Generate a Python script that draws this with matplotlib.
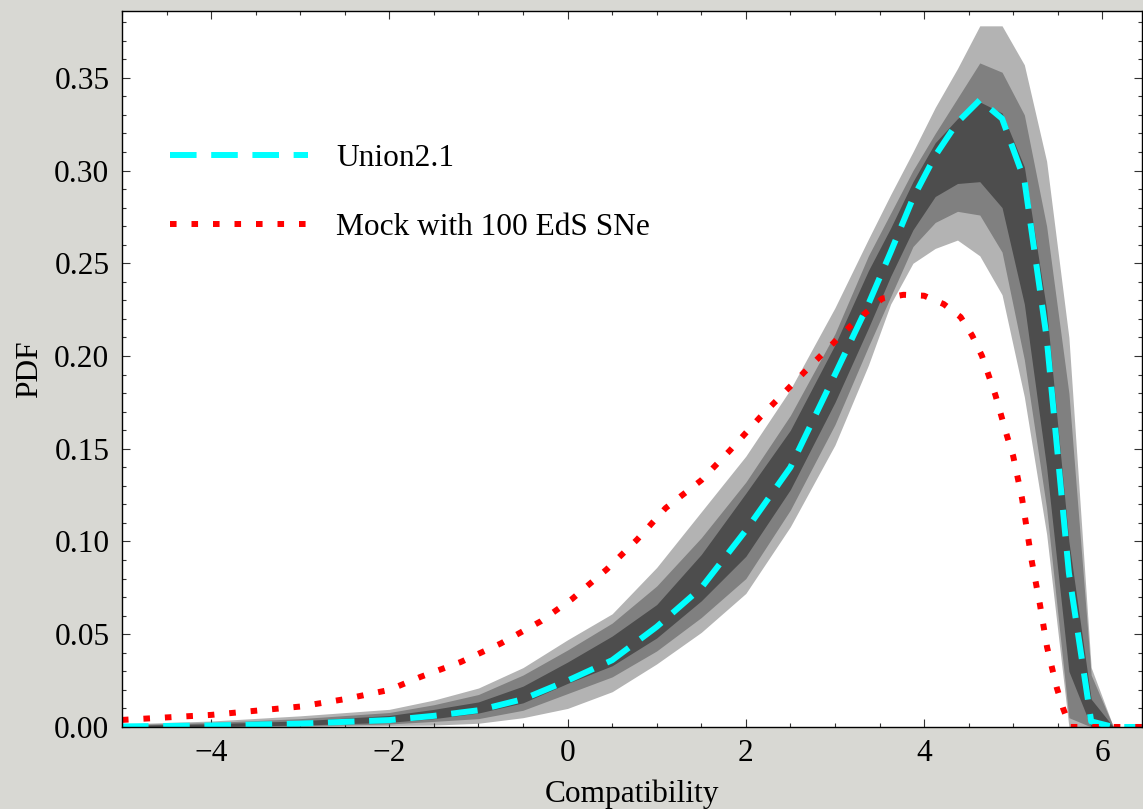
import matplotlib
matplotlib.use("Agg")
from matplotlib import pyplot as plt
from matplotlib.ticker import MultipleLocator

plt.rcParams['font.family'] = ['Liberation Serif', 'DejaVu Serif']

# grid of compatibility values for Union2.1 median and bands
x_union = [-5.0, -4.0, -3.0, -2.0, -1.5, -1.0, -0.5, 0.0, 0.5, 1.0, 1.5,
           2.0, 2.5, 3.0, 3.375, 3.625, 3.875, 4.125, 4.375, 4.625, 4.875,
           5.125, 5.375, 5.625, 5.875, 6.125, 6.5]
union_med = [0.0003, 0.0008, 0.0018, 0.0037, 0.006, 0.009, 0.015, 0.025,
             0.036, 0.054, 0.075, 0.106, 0.140, 0.190, 0.228, 0.256, 0.285,
             0.308, 0.326, 0.338, 0.328, 0.295, 0.210, 0.083, 0.003, 0.0, 0.0]
# inner (1 sigma) band
lo1 = [0.0, 0.0003, 0.001, 0.0025, 0.0045, 0.0075, 0.013, 0.0235, 0.033,
       0.048, 0.068, 0.092, 0.128, 0.175, 0.215, 0.243, 0.268, 0.286, 0.293,
       0.294, 0.280, 0.228, 0.140, 0.030, 0.0, 0.0, 0.0]
hi1 = [0.0008, 0.0017, 0.0033, 0.0062, 0.0095, 0.0135, 0.022, 0.035, 0.049,
       0.066, 0.093, 0.126, 0.160, 0.206, 0.246, 0.269, 0.294, 0.315, 0.328,
       0.337, 0.331, 0.302, 0.225, 0.100, 0.015, 0.0, 0.0]
# middle (2 sigma) band
lo2 = [0.0, 0.0001, 0.0006, 0.0016, 0.003, 0.0045, 0.009, 0.018, 0.027,
       0.041, 0.059, 0.080, 0.117, 0.163, 0.205, 0.232, 0.259, 0.272, 0.278,
       0.276, 0.256, 0.198, 0.118, 0.005, 0.0, 0.0, 0.0]
hi2 = [0.0012, 0.0024, 0.0045, 0.0078, 0.012, 0.0175, 0.028, 0.0415, 0.056,
       0.076, 0.102, 0.132, 0.168, 0.212, 0.254, 0.277, 0.300, 0.320, 0.339,
       0.358, 0.353, 0.330, 0.270, 0.180, 0.028, 0.0, 0.0]
# outer (3 sigma) band
lo3 = [0.0, 0.0, 0.0002, 0.0008, 0.001, 0.002, 0.005, 0.010, 0.019, 0.034,
       0.051, 0.072, 0.108, 0.152, 0.195, 0.228, 0.250, 0.258, 0.2625, 0.254,
       0.233, 0.178, 0.104, 0.0, 0.0, 0.0, 0.0]
hi3 = [0.0016, 0.0032, 0.006, 0.0095, 0.0145, 0.021, 0.032, 0.047, 0.061,
       0.086, 0.116, 0.146, 0.182, 0.226, 0.263, 0.287, 0.310, 0.334, 0.355,
       0.378, 0.378, 0.357, 0.305, 0.210, 0.032, 0.0, 0.0]

# mock catalogue with 100 EdS supernovae
x_mock = [-5.0, -4.0, -3.0, -2.5, -2.0, -1.65, -1.2, -0.75, -0.3, 0.05,
          0.44, 0.78, 1.1, 1.5, 1.82, 2.16, 2.65, 3.17, 3.53, 3.77, 4.0,
          4.22, 4.41, 4.54, 4.65, 4.8, 4.93, 5.0, 5.1, 5.21, 5.3, 5.38, 5.49,
          5.56, 5.64, 6.5]
mock = [0.0038, 0.0065, 0.011, 0.015, 0.02, 0.027, 0.035, 0.045, 0.057,
        0.069, 0.085, 0.101, 0.118, 0.133, 0.149, 0.167, 0.191, 0.216, 0.231,
        0.233, 0.2325, 0.228, 0.221, 0.211, 0.2, 0.179, 0.157, 0.146, 0.123,
        0.089, 0.066, 0.043, 0.021, 0.01, 0.0, 0.0]

labels = ['Union2.1', 'Mock with 100 EdS SNe']

fig = plt.figure(figsize=(11.43, 8.09), dpi=100, facecolor='#d8d8d3')
ax = fig.add_axes([0.1067, 0.1014, 0.8928, 0.8850])
ax.set_facecolor('white')

ax.fill_between(x_union, lo3, hi3, color='#b3b3b3', lw=0, zorder=1)
ax.fill_between(x_union, lo2, hi2, color='#808080', lw=0, zorder=2)
ax.fill_between(x_union, lo1, hi1, color='#4d4d4d', lw=0, zorder=3)

ax.plot(x_union, union_med, color='#00ffff', lw=4.3, dashes=(4.45, 2.45),
        dash_capstyle='butt', label=labels[0], zorder=4)
ax.plot(x_mock, mock, color='#ff0000', lw=4.3, dashes=(1.1, 2.5),
        dash_capstyle='butt', label=labels[1], zorder=5)

ax.set_xlim(-5.0, 6.45)
ax.set_ylim(0, 0.386)
ax.xaxis.set_major_locator(MultipleLocator(2))
ax.xaxis.set_minor_locator(MultipleLocator(0.5))
ax.yaxis.set_major_locator(MultipleLocator(0.05))
ax.yaxis.set_minor_locator(MultipleLocator(0.01))
ax.yaxis.set_major_formatter(plt.FuncFormatter(lambda v, p: '%.2f' % v))

ax.tick_params(which='both', direction='in', top=True, right=True,
               color='#333333', width=0.8, labelsize=22.6)
ax.tick_params(which='major', length=5.5, pad=9)
ax.tick_params(which='minor', length=3)
for s in ax.spines.values():
    s.set_linewidth(1.0)
    s.set_zorder(7)

ax.set_xlabel('Compatibility', fontsize=22.6, labelpad=8)
ax.set_ylabel('PDF', fontsize=22.6, labelpad=7)

leg = ax.legend(loc='upper left', bbox_to_anchor=(0.047, 0.814),
                frameon=False, fontsize=22.6, handlelength=4.4,
                handletextpad=0.9, labelspacing=1.26, borderaxespad=0,
                borderpad=0)

fig.savefig('out.png', dpi=100, facecolor=fig.get_facecolor())
